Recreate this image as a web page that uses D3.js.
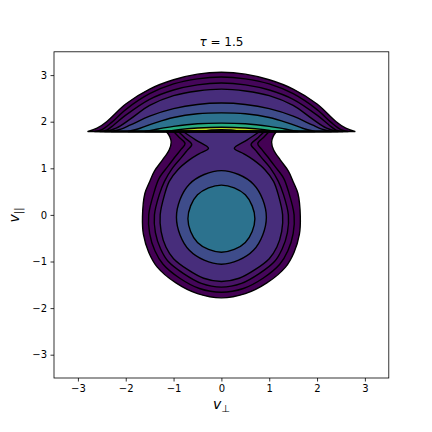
<!DOCTYPE html>
<html>
<head>
<meta charset="utf-8">
<script src="https://cdn.jsdelivr.net/npm/d3@7"></script>
<style>
  body { margin: 0; background: #fff; }
  svg text { font-family: "DejaVu Sans", sans-serif; fill: #000; }
</style>
</head>
<body>
<svg id="chart" width="432" height="432"></svg>
<script>
// tick values on both axes
const ticks = [-3, -2, -1, 0, 1, 2, 3];

// cap contours (right half, from v_perp = 0 out to the tip on the jump line)
const cap0 = [[0, 3.06], [0.5, 3.02], [1.0, 2.90], [1.5, 2.70], [2.0, 2.38], [2.4, 2.00], [2.6, 1.86], [2.79, 1.79]];
const cap1 = [[0, 2.96], [0.5, 2.92], [1.0, 2.81], [1.5, 2.60], [2.0, 2.26], [2.3, 1.98], [2.5, 1.83], [2.65, 1.79]];
const cap2 = [[0, 2.83], [0.5, 2.79], [1.0, 2.68], [1.5, 2.48], [2.0, 2.14], [2.25, 1.93], [2.4, 1.82], [2.54, 1.79]];
const cap3 = [[0, 2.70], [0.5, 2.66], [1.0, 2.56], [1.5, 2.35], [1.9, 2.06], [2.2, 1.86], [2.44, 1.79]];
const cap4 = [[0, 2.40], [0.5, 2.37], [1.0, 2.28], [1.5, 2.12], [1.9, 1.93], [2.1, 1.84], [2.3, 1.79]];
const cap5 = [[0, 2.19], [0.5, 2.17], [1.0, 2.09], [1.4, 1.97], [1.7, 1.86], [1.95, 1.79]];
const cap6 = [[0, 1.97], [0.5, 1.955], [1.0, 1.90], [1.3, 1.85], [1.6, 1.79]];
const cap7 = [[0, 1.88], [0.5, 1.865], [0.9, 1.83], [1.15, 1.79]];
const cap8 = [[0, 1.83], [0.25, 1.82], [0.4, 1.79]];

// body contours (right half, from the jump line down to v_perp = 0 at the bottom)
const body0 = [[1.15, 1.79], [1.08, 1.68], [1.05, 1.56], [1.09, 1.40], [1.23, 1.18], [1.40, 0.94], [1.51, 0.69], [1.60, 0.46], [1.65, -0.04], [1.63, -0.42], [1.52, -0.80], [1.34, -1.12], [0.95, -1.46], [0.50, -1.69], [0, -1.78]];
const body1 = [[1.0, 1.79], [0.88, 1.66], [0.76, 1.53], [0.84, 1.41], [0.95, 1.27], [1.12, 1.04], [1.30, 0.79], [1.40, 0.51], [1.52, 0], [1.50, -0.40], [1.39, -0.77], [1.22, -1.06], [0.87, -1.36], [0.46, -1.58], [0, -1.66]];
const body2 = [[0.9, 1.79], [0.76, 1.65], [0.62, 1.51], [0.72, 1.38], [0.83, 1.24], [1.02, 1.01], [1.19, 0.72], [1.30, 0.43], [1.40, 0], [1.38, -0.38], [1.27, -0.73], [1.11, -1.00], [0.79, -1.26], [0.42, -1.47], [0, -1.55]];
const body3 = [[0.8, 1.79], [0.54, 1.61], [0.27, 1.43], [0.47, 1.31], [0.67, 1.18], [0.91, 0.97], [1.09, 0.72], [1.19, 0.43], [1.28, 0], [1.26, -0.36], [1.16, -0.69], [1.00, -0.94], [0.71, -1.17], [0.37, -1.36], [0, -1.43]];
// the two closed rings around the core
const ring4 = [[0, 0.95], [0.67, 0.66], [0.94, -0.05], [0.67, -0.76], [0, -1.06]];
const core5 = [[0, 0.64], [0.50, 0.43], [0.70, -0.08], [0.50, -0.59], [0, -0.80]];

const capLevels = [cap0, cap1, cap2, cap3, cap4, cap5, cap6, cap7, cap8];
const bodyLevels = [body0, body1, body2, body3, null, null, null, null, null];
const ringLevels = [null, null, null, null, ring4, core5, null, null, null];

// viridis shades of the filled bands, last one is above the top level (left empty)
const bandColors = ["#440154", "#45065a", "#471365", "#472d7b", "#3e4c8a", "#2c728e", "#27ad81", "#c2df23", "#ffffff"];

var svg = d3.select("#chart");
var plotLeft = 54, plotRight = 388.8, plotTop = 51.8, plotBottom = 378;

var x = d3.scaleLinear().domain([-3.5, 3.5]).range([plotLeft, plotRight]);
var y = d3.scaleLinear().domain([-3.5, 3.5]).range([plotBottom, plotTop]);

var line = d3.line()
  .x(function(d) { return x(d[0]); })
  .y(function(d) { return y(d[1]); })
  .curve(d3.curveCatmullRom.alpha(0.5));

var closedLine = d3.line()
  .x(function(d) { return x(d[0]); })
  .y(function(d) { return y(d[1]); })
  .curve(d3.curveCatmullRomClosed.alpha(0.5));

function mirror(pts) {
  return pts.map(function(d) { return [-d[0], d[1]]; });
}

// cap: left tip -> over the top -> right tip, closed straight along the jump
function capPath(pts) {
  var full = mirror(pts.slice(1)).reverse().concat(pts);
  return line(full) + "Z";
}

// body: right side top -> bottom -> left side top, closed straight along the jump
function bodyPath(pts) {
  var full = pts.concat(mirror(pts.slice(0, -1)).reverse());
  return line(full) + "Z";
}

// ring: closed smooth loop
function ringPath(pts) {
  var full = pts.concat(mirror(pts.slice(1, -1)).reverse());
  return closedLine(full);
}

var shapes = [];
for (var k = 0; k < capLevels.length; k++) {
  shapes.push({ level: k, d: capPath(capLevels[k]) });
  if (bodyLevels[k]) shapes.push({ level: k, d: bodyPath(bodyLevels[k]) });
  if (ringLevels[k]) shapes.push({ level: k, d: ringPath(ringLevels[k]) });
}

svg.append("defs").append("clipPath").attr("id", "clip")
  .append("rect")
  .attr("x", plotLeft).attr("y", plotTop)
  .attr("width", plotRight - plotLeft).attr("height", plotBottom - plotTop);

var plot = svg.append("g").attr("clip-path", "url(#clip)");

plot.selectAll(".band")
  .data(shapes)
  .enter().append("path")
  .attr("class", "band")
  .attr("d", function(d) { return d.d; })
  .attr("fill", function(d) { return bandColors[d.level]; })
  .attr("stroke", "none");

plot.selectAll(".contour")
  .data(shapes)
  .enter().append("path")
  .attr("class", "contour")
  .attr("d", function(d) { return d.d; })
  .attr("fill", "none")
  .attr("stroke", "#000")
  .attr("stroke-width", 1.4)
  .attr("stroke-linejoin", "round");

var fmt = function(d) { return d < 0 ? "\u2212" + Math.abs(d) : String(d); };

var xAxis = svg.append("g")
  .attr("transform", "translate(0," + plotBottom + ")")
  .call(d3.axisBottom(x).tickValues(ticks).tickFormat(fmt).tickSize(3.5).tickPadding(3.5));
var yAxis = svg.append("g")
  .attr("transform", "translate(" + plotLeft + ",0)")
  .call(d3.axisLeft(y).tickValues(ticks).tickFormat(fmt).tickSize(3.5).tickPadding(3.5));

[xAxis, yAxis].forEach(function(g) {
  g.select(".domain").remove();
  g.selectAll("line").attr("stroke", "#000").attr("stroke-width", 0.8);
  g.selectAll("text").style("font-size", "10px").style("font-family", "DejaVu Sans").attr("fill", "#000");
});

svg.append("rect")
  .attr("x", plotLeft).attr("y", plotTop)
  .attr("width", plotRight - plotLeft).attr("height", plotBottom - plotTop)
  .attr("fill", "none").attr("stroke", "#000").attr("stroke-width", 0.8);

// title and axis labels
var title = svg.append("text")
  .attr("x", (plotLeft + plotRight) / 2).attr("y", 46)
  .attr("text-anchor", "middle")
  .style("font-size", "12px");
title.append("tspan").style("font-style", "italic").text("\u03c4");
title.append("tspan").text(" = 1.5");

var xl = svg.append("text")
  .attr("x", (plotLeft + plotRight) / 2).attr("y", 409)
  .attr("text-anchor", "middle")
  .style("font-size", "14px");
xl.append("tspan").style("font-style", "italic").text("v");
xl.append("tspan").attr("dy", 3).style("font-size", "10px").text("\u22a5");

var yl = svg.append("text")
  .attr("transform", "translate(19," + y(0) + ") rotate(-90)")
  .attr("text-anchor", "middle")
  .style("font-size", "14px");
yl.append("tspan").style("font-style", "italic").text("v");
yl.append("tspan").attr("dy", 3).style("font-size", "10px").text("||");
</script>
</body>
</html>
